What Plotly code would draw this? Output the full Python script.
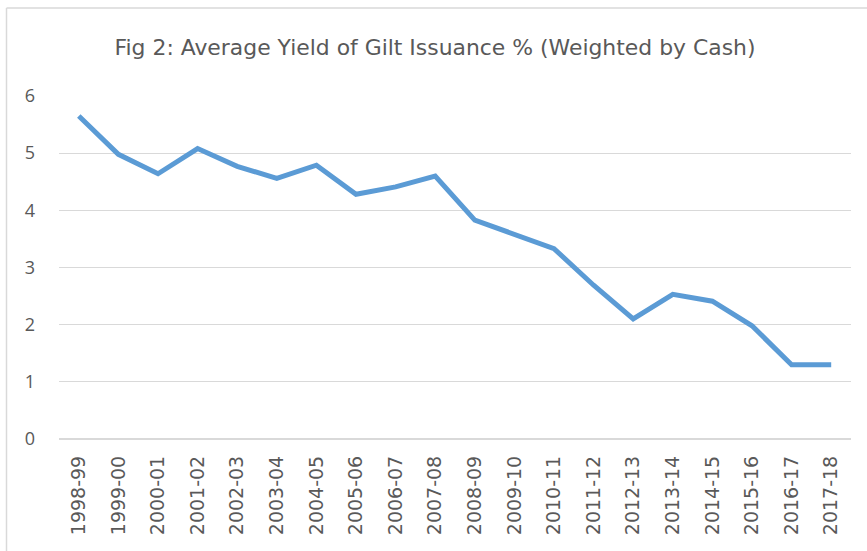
import plotly.graph_objects as go

categories = ["1998-99", "1999-00", "2000-01", "2001-02", "2002-03", "2003-04",
              "2004-05", "2005-06", "2006-07", "2007-08", "2008-09", "2009-10",
              "2010-11", "2011-12", "2012-13", "2013-14", "2014-15", "2015-16",
              "2016-17", "2017-18"]
yields = [5.65, 4.98, 4.64, 5.08, 4.77, 4.56, 4.79, 4.28, 4.41, 4.60,
          3.83, 3.58, 3.33, 2.69, 2.10, 2.53, 2.41, 1.98, 1.30, 1.30]
y_ticks = [0, 1, 2, 3, 4, 5, 6]
title_text = "Fig 2: Average Yield of Gilt Issuance % (Weighted by Cash)"

W, H = 867, 551
ml, mt = 59, 96
pw, ph = 792, 343
mr = W - ml - pw
mb = H - mt - ph

fig = go.Figure()
fig.add_trace(go.Scatter(
    x=categories, y=yields, mode="lines",
    line=dict(color="#5B9BD5", width=5, shape="linear"),
    hoverinfo="x+y", showlegend=False,
))

bx0, by0 = (6.5 - ml) / pw, (439 - 8) / ph
fig.update_layout(
    width=W, height=H,
    margin=dict(l=ml, r=mr, t=mt, b=mb, pad=0),
    paper_bgcolor="white", plot_bgcolor="white",
    title=dict(text=title_text, x=435 / W, xref="container", xanchor="center",
               y=1 - 47 / H, yref="container", yanchor="middle",
               font=dict(family="DejaVu Sans", size=21.9, color="#595959")),
    xaxis=dict(type="category", range=[-0.5, len(categories) - 0.5],
               tickangle=-90, showgrid=False, showline=False, zeroline=False,
               ticks="", ticklabelstandoff=12,
               tickfont=dict(family="DejaVu Sans", size=19, color="#595959"),
               fixedrange=True),
    yaxis=dict(range=[0, 6], tickvals=y_ticks, ticktext=[str(v) for v in y_ticks],
               showgrid=True, gridcolor="#D9D9D9", gridwidth=1.3,
               zeroline=True, zerolinecolor="#D9D9D9", zerolinewidth=1.5,
               showline=False, ticks="", ticklabelstandoff=23,
               tickfont=dict(family="Open Sans", size=18, color="#595959"),
               fixedrange=True),
    shapes=[
        dict(type="line", xref="paper", yref="paper",
             x0=bx0, x1=bx0, y0=by0, y1=(439 - 560) / ph,
             line=dict(color="#D9D9D9", width=1.5), layer="below"),
        dict(type="line", xref="paper", yref="paper",
             x0=bx0, x1=(870 - ml) / pw, y0=by0, y1=by0,
             line=dict(color="#D9D9D9", width=1.5), layer="below"),
    ],
)

fig.write_html("out.html", config={"displayModeBar": False},
               post_script="document.body.style.margin='0';document.body.style.overflow='hidden';")
